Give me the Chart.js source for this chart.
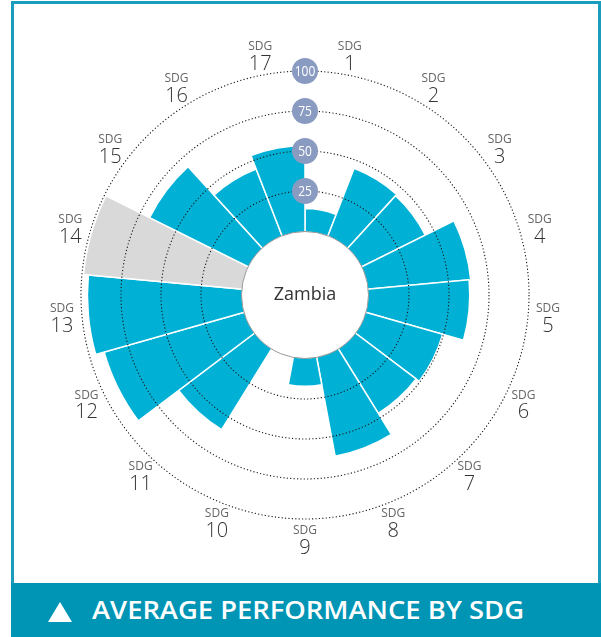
<!DOCTYPE html>
<html>
<head>
<meta charset="utf-8">
<script src="https://cdn.jsdelivr.net/npm/chart.js@4.4.0/dist/chart.umd.min.js"></script>
<style>
  html, body { margin: 0; padding: 0; width: 601px; height: 637px; overflow: hidden; background: #fff; }
  #frame { position: absolute; left: 11px; top: 1px; width: 584px; height: 579px; border: 3px solid #1a9dbc; border-bottom: none; }
  #footer { position: absolute; left: 11px; top: 583px; width: 590px; height: 54px; background: #0095b5; }
  #tri { position: absolute; left: 37px; top: 19px; width: 0; height: 0; border-left: 12.5px solid transparent; border-right: 12.5px solid transparent; border-bottom: 20px solid #fff; }
  #title { position: absolute; left: 81px; top: 8px; color: #fff; font-family: "Open Sans", sans-serif; font-weight: 600; font-size: 26px; line-height: 36px; white-space: nowrap; transform-origin: 0 50%; }
  #c { position: absolute; left: 0; top: 0; }
</style>
</head>
<body>
<div id="frame"></div>
<div id="footer"><div id="tri"></div><div id="title"></div></div>
<canvas id="c" width="601" height="637"></canvas>
<script>
// ---- data ----
const SDG_LABELS = ['1','2','3','4','5','6','7','8','9','10','11','12','13','14','15','16','17'];
const SCORES = [14, 45, 44, 64, 63, 49.5, 47, 62.5, 17, 0, 59, 90.5, 96, null, 68.5, 44.5, 53.5];
const TICK_VALUES = [25, 50, 75, 100];
const COUNTRY = 'Zambia';
const TITLE = 'AVERAGE PERFORMANCE BY SDG';
const NO_DATA_VALUE = 99;   // grey "no data" sector length

// ---- style / layout constants ----
const BLUE = '#00b1d5';
const GREY = '#d9d9d9';
const HOLE_MIN = -40;        // scale minimum, so value 0 sits at the edge of the central hole
const LABEL_VALUE = 112.5;   // radial position (scale units) of the SDG labels

document.getElementById('title').textContent = TITLE;
(function fitTitle() {
  const t = document.getElementById('title');
  const w = t.getBoundingClientRect().width;
  t.style.transform = 'scaleX(' + (432 / w) + ')';
})();

const decor = {
  id: 'decor',
  afterDatasetsDraw(chart) {
    const s = chart.scales.r, ctx = chart.ctx;
    const r0 = s.getDistanceFromCenterForValue(0);
    ctx.save();
    ctx.beginPath();
    ctx.arc(s.xCenter, s.yCenter, r0 - 0.5, 0, Math.PI * 2);
    ctx.fillStyle = '#fff';
    ctx.fill();
    ctx.lineWidth = 1;
    ctx.strokeStyle = '#9a9a9a';
    ctx.stroke();
    ctx.fillStyle = '#333';
    ctx.font = '18px "Open Sans"';
    ctx.textAlign = 'center';
    ctx.textBaseline = 'middle';
    ctx.fillText(COUNTRY, s.xCenter, s.yCenter);
    ctx.restore();
  },
  afterDraw(chart) {
    const s = chart.scales.r, ctx = chart.ctx;
    ctx.save();
    ctx.textAlign = 'center';
    ctx.textBaseline = 'middle';
    TICK_VALUES.forEach(v => {
      const y = s.yCenter - s.getDistanceFromCenterForValue(v);
      ctx.beginPath();
      ctx.arc(s.xCenter, y, 13, 0, Math.PI * 2);
      ctx.fillStyle = '#8a9bc1';
      ctx.fill();
      ctx.save();
      ctx.translate(s.xCenter, y + 0.5);
      ctx.scale(0.8, 1);
      ctx.fillStyle = '#fff';
      ctx.font = '15px "Open Sans"';
      ctx.fillText(String(v), 0, 0);
      ctx.restore();
    });
    const n = SDG_LABELS.length;
    const d = s.getDistanceFromCenterForValue(LABEL_VALUE);
    SDG_LABELS.forEach((lab, i) => {
      const a = (i + 0.5) * 2 * Math.PI / n;
      const x = s.xCenter + d * Math.sin(a);
      const y = s.yCenter - d * Math.cos(a);
      ctx.fillStyle = '#666';
      ctx.font = '12px "Open Sans"';
      ctx.fillText('SDG', x, y - 8.5);
      ctx.fillStyle = '#333';
      ctx.font = '300 20px "Open Sans"';
      ctx.fillText(lab, x, y + 9);
    });
    ctx.restore();
  }
};

new Chart(document.getElementById('c'), {
  type: 'polarArea',
  data: {
    labels: SDG_LABELS.map(l => 'SDG ' + l),
    datasets: [{
      data: SCORES.map(v => v === null ? NO_DATA_VALUE : v),
      backgroundColor: SCORES.map(v => v === null ? GREY : BLUE),
      borderColor: '#fff',
      borderWidth: 1.5
    }]
  },
  options: {
    responsive: false,
    animation: false,
    layout: { padding: { left: 81, top: 71, right: 72, bottom: 118 } },
    plugins: { legend: { display: false }, tooltip: { enabled: false } },
    scales: {
      r: {
        min: HOLE_MIN,
        max: 100,
        startAngle: 0,
        afterBuildTicks: (s) => { s.ticks = TICK_VALUES.map(v => ({ value: v })); },
        ticks: { display: false, z: 1 },
        grid: { circular: true, color: '#1a1a1a', lineWidth: 1.1, z: 1 },
        border: { dash: [1.2, 2.2] },
        angleLines: { display: false },
        pointLabels: { display: false }
      }
    }
  },
  plugins: [decor]
});
</script>
</body>
</html>
